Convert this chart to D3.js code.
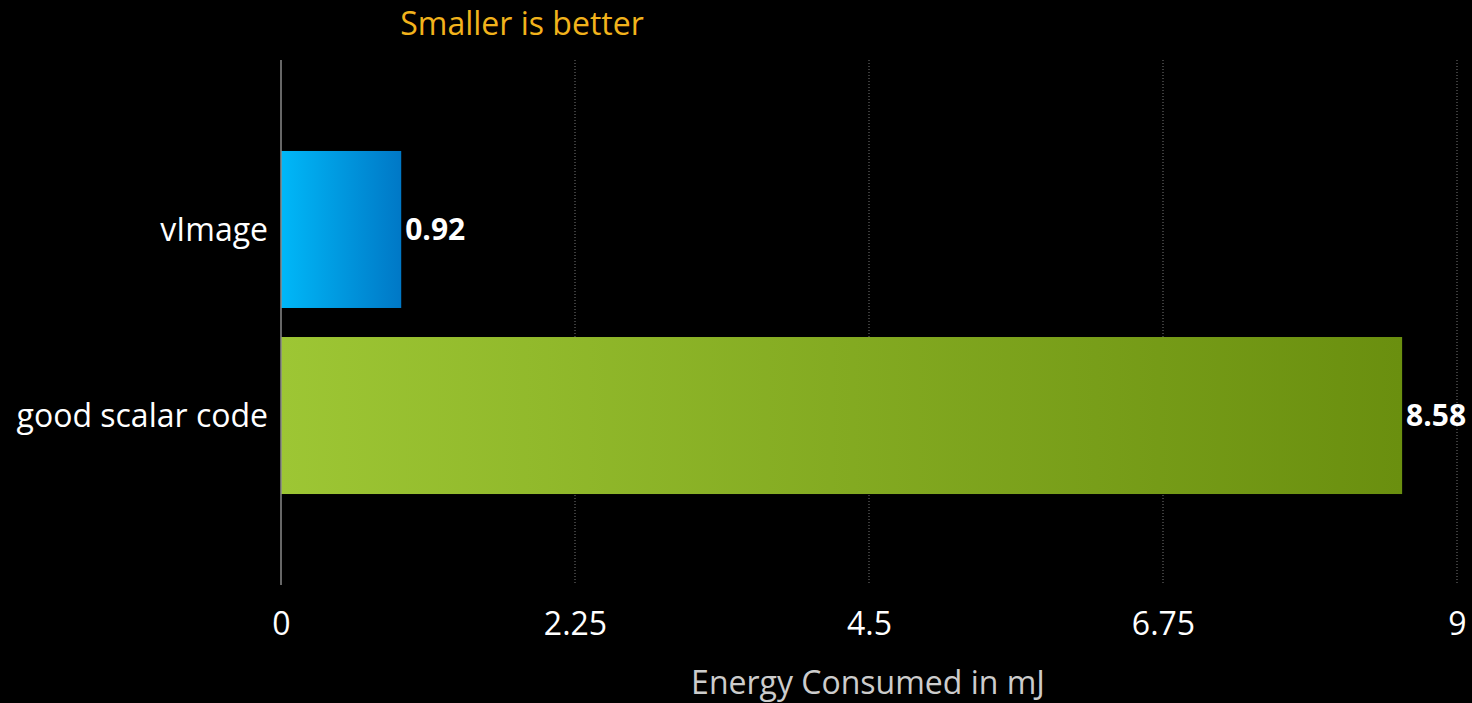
<!DOCTYPE html>
<html>
<head>
<meta charset="utf-8">
<script src="https://cdn.jsdelivr.net/npm/d3@7"></script>
<style>
  html, body { margin: 0; padding: 0; background: #000; }
  svg { display: block; }
  text { font-family: "Open Sans", "Noto Sans", sans-serif; font-weight: 500; }
  text.value { font-weight: 700; }
</style>
</head>
<body>
<svg id="chart" width="1472" height="703"></svg>
<script>
// Energy per implementation (mJ)
const categories = ["vImage", "good scalar code"];
const energy = [0.92, 8.58];
const tickValues = [0, 2.25, 4.5, 6.75, 9];
const tickLabels = ["0", "2.25", "4.5", "6.75", "9"];
const gradients = [["#00b8f8", "#0078c6"], ["#9dc634", "#6a8f0f"]];

const svg = d3.select("#chart");
const plot = { left: 281, right: 1457, top: 60, bottom: 585 };

const x = d3.scaleLinear().domain([0, 9]).range([plot.left, plot.right]);
const y = d3.scaleBand().domain(categories).range([plot.top, plot.bottom])
  .paddingInner(0.156).paddingOuter(0.489);

const defs = svg.append("defs");
categories.forEach((c, i) => {
  const g = defs.append("linearGradient").attr("id", "grad" + i)
    .attr("x1", "0%").attr("x2", "100%").attr("y1", "0%").attr("y2", "0%");
  g.append("stop").attr("offset", "0%").attr("stop-color", gradients[i][0]);
  g.append("stop").attr("offset", "100%").attr("stop-color", gradients[i][1]);
});

// dotted gridlines
svg.append("g").selectAll("line").data(tickValues.slice(1)).join("line")
  .attr("x1", d => x(d)).attr("x2", d => x(d))
  .attr("y1", plot.top).attr("y2", plot.bottom)
  .attr("stroke", "#777").attr("stroke-width", 1)
  .attr("stroke-dasharray", "1,2");

// bars
svg.append("g").selectAll("rect").data(categories).join("rect")
  .attr("x", x(0))
  .attr("y", d => y(d))
  .attr("width", (d, i) => x(energy[i]) - x(0))
  .attr("height", y.bandwidth())
  .attr("fill", (d, i) => `url(#grad${i})`);

// baseline axis
svg.append("line")
  .attr("x1", x(0)).attr("x2", x(0)).attr("y1", plot.top).attr("y2", plot.bottom)
  .attr("stroke", "#8a8a8a").attr("stroke-width", 1.5);

// value labels
svg.append("g").selectAll("text").data(categories).join("text")
  .attr("class", "value")
  .attr("x", (d, i) => x(energy[i]) + 4)
  .attr("y", d => y(d) + y.bandwidth() / 2)
  .attr("dy", "0.35em")
  .attr("fill", "#fff").attr("font-size", 30)
  .text((d, i) => energy[i].toFixed(2));

// category labels
svg.append("g").selectAll("text").data(categories).join("text")
  .attr("x", plot.left - 13)
  .attr("y", d => y(d) + y.bandwidth() / 2)
  .attr("dy", "0.35em")
  .attr("text-anchor", "end")
  .attr("fill", "#fff").attr("font-size", 32)
  .text(d => d);

// x tick labels
const xAxis = d3.axisBottom(x).tickValues(tickValues)
  .tickFormat((d, i) => tickLabels[i]).tickSize(0).tickPadding(0);
const ax = svg.append("g").attr("transform", `translate(0, ${plot.bottom + 27})`).call(xAxis);
ax.select(".domain").remove();
ax.selectAll("text").attr("fill", "#fff").attr("font-size", 32)
  .attr("font-family", "\"Open Sans\", sans-serif");

// axis title
svg.append("text")
  .attr("x", (plot.left + plot.right) / 2 - 1).attr("y", 694)
  .attr("text-anchor", "middle")
  .attr("fill", "#cccccc").attr("font-size", 32)
  .text("Energy Consumed in mJ");

// headline
svg.append("text")
  .attr("x", 522).attr("y", 35)
  .attr("text-anchor", "middle")
  .attr("fill", "#f2b31c").attr("font-size", 32)
  .text("Smaller is better");
</script>
</body>
</html>
